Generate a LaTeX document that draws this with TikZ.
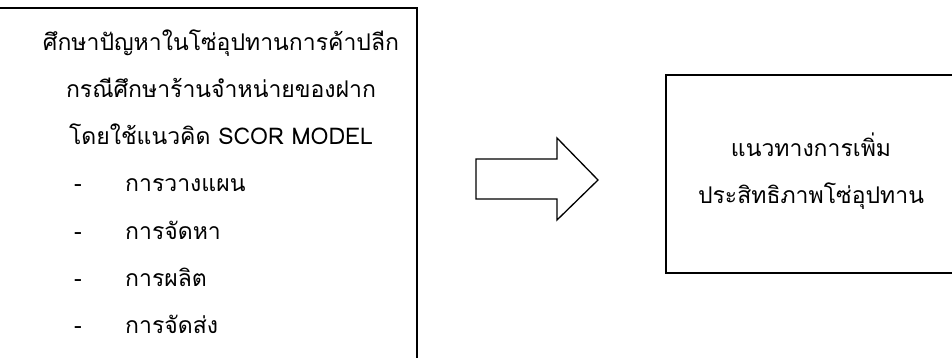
\documentclass[tikz,border=0pt]{standalone}
\usepackage{fontspec}
\newfontfamily\thaifont[Script=Thai]{Loma}
\begin{document}
\begin{tikzpicture}[x=1pt,y=-1pt,
  frame/.style={draw=black,line width=1.3pt},
  txt/.style={font=\thaifont\fontsize{23}{27}\selectfont,inner sep=0pt,anchor=base},
  item/.style={font=\thaifont\fontsize{23}{27}\selectfont,inner sep=0pt,anchor=base west}]
\useasboundingbox (0,0) rectangle (952,358);
\begin{scope}
\clip (0,0) rectangle (952,358);
\draw[frame] (-10,8) rectangle (417,380);
\draw[frame] (666,75) rectangle (960,273);
\draw[frame,line join=miter] (476,159) -- (557,159) -- (557,138) -- (598,180) -- (557,220) -- (557,199) -- (476,199) -- cycle;
\end{scope}
\node[txt] (l1) at (221,51) {ศึกษาปัญหาในโซ่อุปทานการค้าปลีก};
\node[txt] (l2) at (221,98) {กรณีศึกษาร้านจำหน่ายของฝาก};
\node[txt] (l3) at (221,145) {โดยใช้แนวคิด SCOR MODEL};
\foreach \t/\y [count=\i] in {การวางแผน/192, การจัดหา/239, การผลิต/286, การจัดส่ง/333}{
  \node[item] (d\i) at (74,\y) {-};
  \node[item] (i\i) at (125,\y) {\t};
}
\node[txt] (r1) at (811,157) {แนวทางการเพิ่ม};
\node[txt] (r2) at (811,204) {ประสิทธิภาพโซ่อุปทาน};
\end{tikzpicture}
\end{document}
